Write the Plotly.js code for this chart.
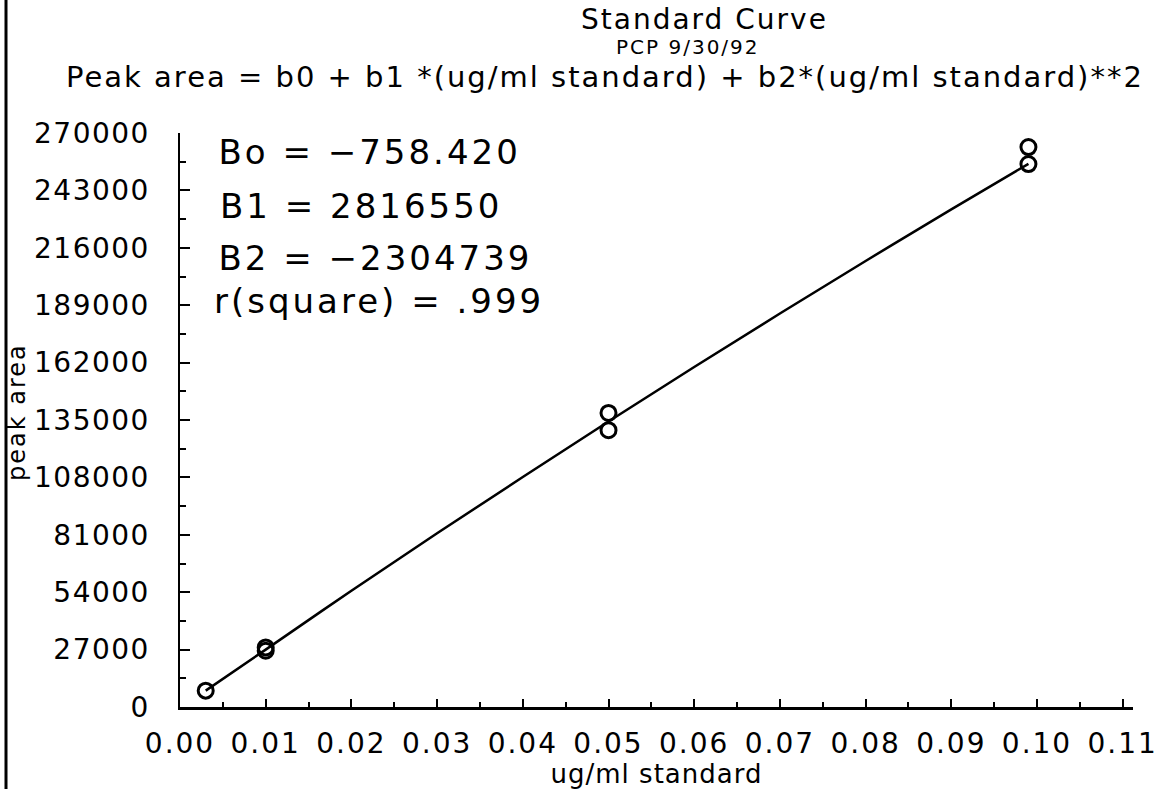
<!DOCTYPE html>
<html>
<head>
<meta charset="utf-8">
<script src="https://cdn.plot.ly/plotly-3.0.1.min.js"></script>
<style>
html, body { margin: 0; padding: 0; background: #fff; }
#chart { width: 1160px; height: 789px; }
#chart text { letter-spacing: 1px; }
#chart .xtick text { letter-spacing: 2px; }
#chart .ytick text { letter-spacing: 1.5px; }
#chart .annotation-text { letter-spacing: 2px; }
#chart .coef .annotation-text { letter-spacing: 3px; }
</style>
</head>
<body>
<div id="chart"></div>
<script>
// Measured standards (ug/ml) and peak areas
const stdConc = [0.003, 0.01, 0.01, 0.05, 0.05, 0.099, 0.099];
const peakArea = [7700, 28000, 26500, 138300, 130200, 263400, 255400];

// Fitted curve
const curveConc = [0.003, 0.01, 0.02, 0.03, 0.04, 0.05, 0.06, 0.07, 0.08, 0.09, 0.099];
const curveArea = [7700, 27000, 54700, 81700, 108200, 134300, 159900, 185100, 209800, 234100, 255500];

// Axis ticks
const yTickVals = [0, 27000, 54000, 81000, 108000, 135000, 162000, 189000, 216000, 243000, 270000];
const yTickText = ["0", "27000", "54000", "81000", "108000", "135000", "162000", "189000", "216000", "243000", "270000"];
const xTickVals = [0.00, 0.01, 0.02, 0.03, 0.04, 0.05, 0.06, 0.07, 0.08, 0.09, 0.10, 0.11];
const xTickText = ["0.00", "0.01", "0.02", "0.03", "0.04", "0.05", "0.06", "0.07", "0.08", "0.09", "0.10", "0.11"];

// Text
const titleLines = ["Standard Curve", "PCP 9/30/92", "Peak area = b0 + b1 *(ug/ml standard) + b2*(ug/ml standard)**2"];
const coefLines = ["Bo = \u2212758.420", "B1 = 2816550", "B2 = \u22122304739", "r(square) = .999"];
const yTitle = "peak area";
const xTitle = "ug/ml standard";

const FONT = "DejaVu Sans, sans-serif";

const traces = [
  {
    x: curveConc, y: curveArea, type: "scatter", mode: "lines",
    line: { color: "#000", width: 2.5, shape: "spline" },
    hoverinfo: "skip", showlegend: false
  },
  {
    x: stdConc, y: peakArea, type: "scatter", mode: "markers",
    marker: { symbol: "circle-open", size: 15, color: "#000", line: { width: 3, color: "#000" } },
    showlegend: false
  }
];

const px = v => (v - 180) / 953;
const py = v => (707 - v) / 574;

const coefYpx = [152, 206, 258, 301];
const annotations = [
  { text: titleLines[0], xref: "paper", yref: "paper", x: px(704), y: py(19), xanchor: "center", yanchor: "middle", showarrow: false, font: { family: FONT, size: 28, color: "#000" } },
  { text: titleLines[1], xref: "paper", yref: "paper", x: px(688), y: py(47), xanchor: "center", yanchor: "middle", showarrow: false, font: { family: FONT, size: 20, color: "#000" } },
  { text: titleLines[2], xref: "paper", yref: "paper", x: px(605), y: py(77), xanchor: "center", yanchor: "middle", showarrow: false, font: { family: FONT, size: 29, color: "#000" } },
  { text: yTitle, xref: "paper", yref: "paper", x: px(17), y: py(412), xanchor: "center", yanchor: "middle", textangle: -90, showarrow: false, font: { family: FONT, size: 24, color: "#000" } }
];
coefLines.forEach((t, i) => {
  annotations.push({ text: t, xref: "paper", yref: "paper", x: px(236), y: py(coefYpx[i]), xanchor: "left", yanchor: "middle", showarrow: false, font: { family: FONT, size: 34, color: "#000" } });
});

const layout = {
  width: 1160, height: 789,
  margin: { l: 180, r: 27, t: 133, b: 82 },
  paper_bgcolor: "#fff", plot_bgcolor: "#fff",
  showlegend: false,
  xaxis: {
    range: [0, 0.1112], showgrid: false, zeroline: false,
    showline: true, linecolor: "#000", linewidth: 2.5,
    tickmode: "array", tickvals: xTickVals, ticktext: xTickText,
    ticks: "inside", ticklen: 8, tickwidth: 2, tickcolor: "#000",
    minor: { tickmode: "linear", tick0: 0, dtick: 0.005, ticks: "inside", ticklen: 5, tickwidth: 2, tickcolor: "#000", showgrid: false },
    tickfont: { family: FONT, size: 28, color: "#000" },
    ticklabelstandoff: 10,
    title: { text: xTitle, font: { family: FONT, size: 26, color: "#000" }, standoff: 2 },
    automargin: false
  },
  yaxis: {
    range: [0, 270000], showgrid: false, zeroline: false,
    showline: true, linecolor: "#000", linewidth: 2.5,
    tickmode: "array", tickvals: yTickVals, ticktext: yTickText,
    ticks: "inside", ticklen: 10, tickwidth: 2, tickcolor: "#000",
    minor: { tickmode: "linear", tick0: 0, dtick: 13500, ticks: "inside", ticklen: 6, tickwidth: 2, tickcolor: "#000", showgrid: false },
    tickfont: { family: FONT, size: 28, color: "#000" },
    ticklabelstandoff: 22,
    automargin: false
  },
  annotations: annotations,
  shapes: [
    { type: "line", xref: "paper", yref: "paper", x0: px(6), x1: px(6), y0: py(0), y1: py(789), line: { color: "#000", width: 3 } }
  ]
};

Plotly.newPlot("chart", traces, layout, { displayModeBar: false, staticPlot: true }).then(gd => {
  // tag coefficient annotations so their spacing can be styled
  const groups = gd.querySelectorAll(".annotation");
  groups.forEach((g, i) => { if (i >= 4) g.classList.add("coef"); });
});
</script>
</body>
</html>
